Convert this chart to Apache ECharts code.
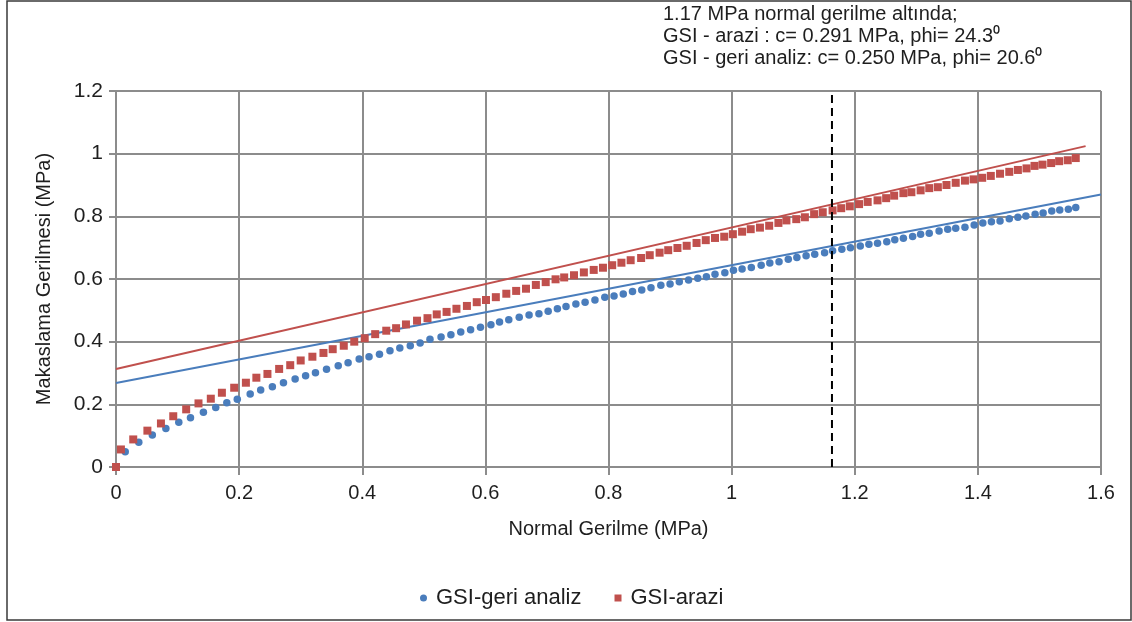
<!DOCTYPE html>
<html>
<head>
<meta charset="utf-8">
<title>Makaslama Gerilmesi</title>
<script src="https://cdn.jsdelivr.net/npm/echarts@6/dist/echarts.min.js"></script>
<style>
    html, body { margin: 0; padding: 0; background: #fff; }
    #chart { width: 1132px; height: 622px; }
</style>
</head>
<body>
<div id="chart"></div>
<script>
'use strict';

// values: [normal stress, shear stress] in MPa
const geriAnaliz = [
    [0.015, 0.049], [0.037, 0.079], [0.059, 0.102], [0.081, 0.123], [0.102, 0.143], [0.121, 0.157],
    [0.142, 0.175], [0.162, 0.190], [0.180, 0.205], [0.197, 0.216], [0.218, 0.233], [0.235, 0.246],
    [0.254, 0.256], [0.272, 0.269], [0.291, 0.281], [0.308, 0.291], [0.324, 0.301], [0.342, 0.312],
    [0.361, 0.323], [0.377, 0.333], [0.395, 0.345], [0.411, 0.352], [0.428, 0.360], [0.445, 0.371],
    [0.461, 0.380], [0.478, 0.387], [0.494, 0.396], [0.510, 0.408], [0.528, 0.415], [0.544, 0.422],
    [0.560, 0.431], [0.576, 0.438], [0.592, 0.446], [0.609, 0.454], [0.623, 0.463], [0.638, 0.470],
    [0.655, 0.478], [0.671, 0.485], [0.687, 0.489], [0.702, 0.497], [0.717, 0.505],
    [0.731, 0.512], [0.747, 0.520], [0.762, 0.526], [0.778, 0.533], [0.794, 0.542], [0.809, 0.546],
    [0.824, 0.552], [0.839, 0.560], [0.854, 0.565], [0.869, 0.572], [0.885, 0.580], [0.900, 0.584],
    [0.915, 0.591], [0.930, 0.597], [0.945, 0.602], [0.959, 0.607], [0.973, 0.615], [0.989, 0.620],
    [1.003, 0.628], [1.017, 0.632], [1.032, 0.637], [1.048, 0.644], [1.062, 0.651], [1.077, 0.655],
    [1.092, 0.663], [1.106, 0.669], [1.121, 0.674], [1.135, 0.679], [1.151, 0.684], [1.164, 0.690],
    [1.179, 0.695], [1.193, 0.700], [1.209, 0.705], [1.223, 0.711], [1.237, 0.714], [1.252, 0.719],
    [1.265, 0.725], [1.279, 0.730], [1.294, 0.736], [1.307, 0.743], [1.321, 0.746], [1.337, 0.753],
    [1.351, 0.759], [1.364, 0.762], [1.379, 0.765], [1.394, 0.772], [1.408, 0.779], [1.422, 0.783],
    [1.436, 0.785], [1.451, 0.792], [1.465, 0.797], [1.478, 0.801], [1.493, 0.807], [1.506, 0.811],
    [1.520, 0.817], [1.533, 0.820], [1.547, 0.823], [1.559, 0.828]
];

const arazi = [
    [0, 0], [0.008, 0.056], [0.028, 0.088], [0.051, 0.116], [0.073, 0.139], [0.093, 0.162],
    [0.114, 0.184], [0.134, 0.203], [0.154, 0.218], [0.172, 0.237], [0.192, 0.253], [0.211, 0.269],
    [0.228, 0.285], [0.246, 0.297], [0.265, 0.313], [0.283, 0.325], [0.300, 0.340], [0.319, 0.352],
    [0.337, 0.364], [0.352, 0.376], [0.370, 0.387], [0.387, 0.400], [0.404, 0.411], [0.421, 0.424],
    [0.439, 0.435], [0.455, 0.443], [0.471, 0.455], [0.489, 0.467], [0.506, 0.475], [0.521, 0.487],
    [0.537, 0.495], [0.553, 0.505], [0.570, 0.514], [0.586, 0.526], [0.601, 0.533], [0.617, 0.542],
    [0.634, 0.553], [0.650, 0.562], [0.666, 0.569], [0.682, 0.581], [0.698, 0.590], [0.714, 0.599],
    [0.728, 0.605], [0.744, 0.612], [0.760, 0.621], [0.776, 0.629], [0.791, 0.636], [0.806, 0.644],
    [0.821, 0.652], [0.836, 0.660], [0.853, 0.667], [0.867, 0.676], [0.883, 0.684], [0.897, 0.692],
    [0.912, 0.699], [0.927, 0.706], [0.943, 0.715], [0.958, 0.724], [0.973, 0.731], [0.988, 0.735],
    [1.002, 0.743], [1.017, 0.751], [1.031, 0.759], [1.046, 0.764], [1.061, 0.770], [1.076, 0.779],
    [1.089, 0.787], [1.105, 0.791], [1.119, 0.797], [1.134, 0.807], [1.148, 0.813], [1.164, 0.819],
    [1.178, 0.826], [1.192, 0.832], [1.207, 0.839], [1.221, 0.846], [1.237, 0.851], [1.251, 0.858],
    [1.264, 0.866], [1.279, 0.874], [1.292, 0.877], [1.307, 0.883], [1.321, 0.890], [1.335, 0.893],
    [1.349, 0.900], [1.364, 0.907], [1.379, 0.914], [1.393, 0.918], [1.407, 0.923], [1.421, 0.929],
    [1.436, 0.936], [1.451, 0.942], [1.465, 0.948], [1.479, 0.953], [1.492, 0.961], [1.505, 0.965],
    [1.519, 0.970], [1.532, 0.976], [1.546, 0.979], [1.559, 0.986]
];

// Mohr-Coulomb fits (straight lines)
const geriLine = [[0, 0.268], [1.6, 0.870]];
const araziLine = [[0, 0.313], [1.575, 1.024]];

// normal stress the fits are taken at
const normalStress = 1.163;
const stressSpan = [0, 1.2];

const seriesNames = ['GSI-geri analiz', 'GSI-arazi'];
const noteLines = [
    '1.17 MPa normal gerilme altında;',
    'GSI - arazi : c= 0.291 MPa, phi= 24.3⁰',
    'GSI - geri analiz: c= 0.250 MPa, phi= 20.6⁰'
];

const blue = '#4a7dbc';
const red = '#c0504d';
const gridGrey = '#8c8c8c';
const textColor = '#1e1e1e';
const font = 'Liberation Sans, Arial, sans-serif';

const myChart = echarts.init(document.getElementById('chart'));

const option = {
    backgroundColor: '#fff',
    animation: false,
    textStyle: { fontFamily: font },
    grid: { left: 116, right: 31, top: 91, bottom: 155 },
    xAxis: {
        type: 'value',
        min: 0,
        max: 1.6,
        interval: 0.2,
        name: 'Normal Gerilme (MPa)',
        nameLocation: 'middle',
        nameGap: 52,
        nameTextStyle: { fontSize: 20, color: textColor, fontFamily: font },
        axisLine: { show: true, onZero: false, lineStyle: { color: gridGrey, width: 2 } },
        axisTick: { show: true, length: 8, lineStyle: { color: gridGrey, width: 2 } },
        axisLabel: { fontSize: 20, color: textColor, margin: 16, fontFamily: font },
        splitLine: { show: true, lineStyle: { color: gridGrey, width: 2 } }
    },
    yAxis: {
        type: 'value',
        min: 0,
        max: 1.2,
        interval: 0.2,
        name: 'Makaslama Gerilmesi (MPa)',
        nameLocation: 'middle',
        nameGap: 62,
        nameTextStyle: { fontSize: 20, color: textColor, fontFamily: font },
        axisLine: { show: true, lineStyle: { color: gridGrey, width: 2 } },
        axisTick: { show: true, length: 7, lineStyle: { color: gridGrey, width: 2 } },
        axisLabel: { fontSize: 21, color: textColor, margin: 13, fontFamily: font },
        splitLine: { show: true, lineStyle: { color: gridGrey, width: 2 } }
    },
    legend: {
        data: seriesNames,
        left: 415,
        top: 582,
        itemWidth: 7,
        itemHeight: 7,
        itemGap: 33,
        textStyle: { fontSize: 22, color: textColor, fontFamily: font, padding: [0, 0, 0, 4] }
    },
    series: [
        {
            name: 'geri-fit',
            type: 'line',
            data: geriLine,
            symbol: 'none',
            lineStyle: { color: blue, width: 2 },
            z: 3
        },
        {
            name: 'arazi-fit',
            type: 'line',
            data: araziLine,
            symbol: 'none',
            lineStyle: { color: red, width: 2 },
            z: 3
        },
        {
            name: seriesNames[0],
            type: 'scatter',
            data: geriAnaliz,
            symbol: 'circle',
            symbolSize: 7.5,
            itemStyle: { color: blue, opacity: 1 },
            z: 4
        },
        {
            name: seriesNames[1],
            type: 'scatter',
            data: arazi,
            symbol: 'rect',
            symbolSize: 8,
            itemStyle: { color: red, opacity: 1 },
            z: 5
        },
        {
            name: 'normal',
            type: 'line',
            data: stressSpan.map(v => [normalStress, v]),
            symbol: 'none',
            lineStyle: { color: '#000', width: 2, type: [8, 5] },
            z: 6
        }
    ],
    graphic: [
        {
            type: 'rect',
            shape: { x: 7, y: 1, width: 1124, height: 619 },
            style: { fill: 'none', stroke: '#3a3a3a', lineWidth: 1.5 },
            silent: true
        },
        {
            type: 'text',
            left: 663,
            top: 3,
            style: {
                text: noteLines.join('\n'),
                font: '20px ' + font,
                lineHeight: 22,
                fill: textColor
            }
        }
    ]
};

myChart.setOption(option);
</script>
</body>
</html>
